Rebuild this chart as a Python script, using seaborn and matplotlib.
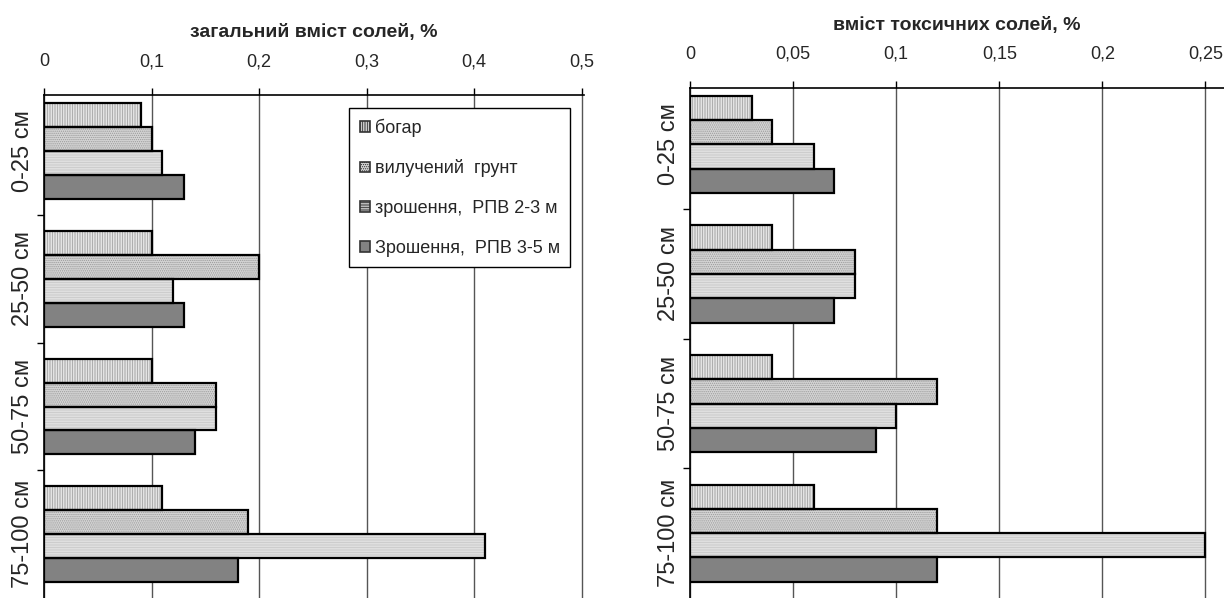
import matplotlib
matplotlib.use("Agg")
from matplotlib import pyplot as plt
from matplotlib.patches import Rectangle
import pandas as pd
import seaborn as sns

DEPTHS = ["0-25 см", "25-50 см", "50-75 см", "75-100 см"]
SERIES = ["богар", "вилучений  грунт", "зрошення,  РПВ 2-3 м", "Зрошення,  РПВ 3-5 м"]

# загальний вміст солей, % (one list per series, values by depth)
TOTAL_BOGAR = [0.09, 0.10, 0.10, 0.11]
TOTAL_VYLUCH = [0.10, 0.20, 0.16, 0.19]
TOTAL_ZR23 = [0.11, 0.12, 0.16, 0.41]
TOTAL_ZR35 = [0.13, 0.13, 0.14, 0.18]

# вміст токсичних солей, %
TOX_BOGAR = [0.03, 0.04, 0.04, 0.06]
TOX_VYLUCH = [0.04, 0.08, 0.12, 0.12]
TOX_ZR23 = [0.06, 0.08, 0.10, 0.25]
TOX_ZR35 = [0.07, 0.07, 0.09, 0.12]

COLORS = ["#fafafa", "#d4d4d4", "#e8e8e8", "#828282"]
HATCHES = ["||||||||||", "........", "----------", ""]
HATCH_COLORS = ["#a0a0a0", "#9a9a9a", "#c8c8c8", "#828282"]


def long_df(cols):
    rows = []
    for name, vals in zip(SERIES, cols):
        for d, v in zip(DEPTHS, vals):
            rows.append({"depth": d, "series": name, "value": v})
    return pd.DataFrame(rows)


df_total = long_df([TOTAL_BOGAR, TOTAL_VYLUCH, TOTAL_ZR23, TOTAL_ZR35])
df_tox = long_df([TOX_BOGAR, TOX_VYLUCH, TOX_ZR23, TOX_ZR35])

sns.set_theme(style="white")
plt.rcParams["font.family"] = ["Liberation Sans", "DejaVu Sans"]
plt.rcParams["hatch.linewidth"] = 0.6

fig = plt.figure(figsize=(12.24, 5.98), dpi=100)
ax1 = fig.add_axes([0.0359, 0.0, 0.4412, 0.841])
ax2 = fig.add_axes([0.5637, 0.0, 0.4363, 0.853])


def draw(ax, df, xmax, ylim_top, ticks, ticklabels, title, legend):
    sns.barplot(data=df, y="depth", x="value", hue="series", order=DEPTHS,
                hue_order=SERIES, palette=COLORS, orient="h", width=0.75,
                ax=ax, legend=legend, zorder=3)
    for cont, h, hc in zip(ax.containers, HATCHES, HATCH_COLORS):
        for bar in cont:
            bar.set_hatch(h)
            bar.set_edgecolor(hc)
            bar.set_linewidth(0)
            ax.add_patch(Rectangle(bar.get_xy(), bar.get_width(), bar.get_height(),
                                   fill=False, edgecolor="black", linewidth=1.6, zorder=4))
    ax.set_xlim(0, xmax)
    ax.set_ylim(3.5, ylim_top)
    ax.xaxis.tick_top()
    ax.set_xticks(ticks)
    ax.set_xticklabels(ticklabels, fontsize=13)
    ax.tick_params(axis="x", direction="out", length=5, width=1, color="black", pad=13)
    ax.grid(axis="x", color="#555555", linewidth=1, zorder=0)
    ax.set_axisbelow(True)
    ax.set_yticks(range(len(DEPTHS)))
    ax.set_yticklabels(DEPTHS, rotation=90, va="center", fontsize=17)
    ax.tick_params(axis="y", length=0, pad=7)
    ax.set_yticks([0.5, 1.5, 2.5], minor=True)
    ax.tick_params(axis="y", which="minor", length=5, width=1, color="black", left=True)
    ax.set_xlabel("")
    ax.set_ylabel("")
    ax.set_title(title, fontsize=14, fontweight="bold", pad=42)
    for s in ["right", "bottom"]:
        ax.spines[s].set_visible(False)
    for s in ["left", "top"]:
        ax.spines[s].set_color("black")
        ax.spines[s].set_linewidth(1.2)


draw(ax1, df_total, 0.502, -0.44, [0, 0.1, 0.2, 0.3, 0.4, 0.5],
     ["0", "0,1", "0,2", "0,3", "0,4", "0,5"], "загальний вміст солей, %", True)
draw(ax2, df_tox, 0.259, -0.435, [0, 0.05, 0.1, 0.15, 0.2, 0.25],
     ["0", "0,05", "0,1", "0,15", "0,2", "0,25"], "вміст токсичних солей, %", False)

handles, labels = ax1.get_legend_handles_labels()
for hnd, h in zip(handles, HATCHES):
    hnd.set_hatch(h)
    hnd.set_edgecolor("#333333")
    hnd.set_linewidth(1.2)
leg = ax1.legend(handles, labels, loc="upper right", bbox_to_anchor=(0.975, 0.975),
                 fontsize=13, frameon=True, fancybox=False, edgecolor="black",
                 framealpha=1, handlelength=0.55, handleheight=0.55, handletextpad=0.25,
                 labelspacing=1.25, borderpad=0.6, borderaxespad=0)
leg.get_frame().set_linewidth(1)

fig.savefig("out.png", dpi=100)
